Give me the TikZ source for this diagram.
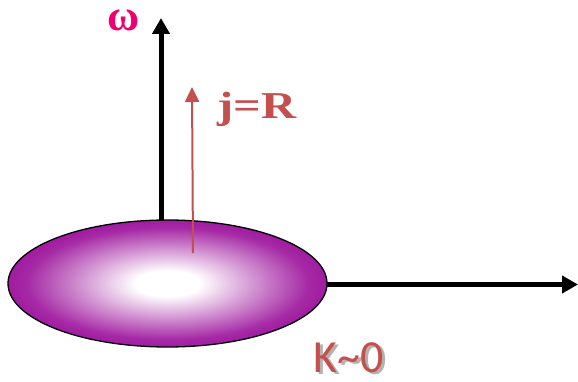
\documentclass[tikz,border=0pt]{standalone}
\usepackage{fontspec}
\setmainfont{Liberation Serif}
\newfontfamily\kfont{Carlito}
\usetikzlibrary{arrows.meta}
\definecolor{purp}{RGB}{150,4,150}
\definecolor{omegac}{RGB}{238,0,112}
\definecolor{redc}{RGB}{196,80,77}
\pgfdeclareradialshading{glow}{\pgfpoint{0bp}{0bp}}{color(0bp)=(white); color(5bp)=(white); color(12bp)=(purp!35!white); color(22bp)=(purp!85!white); color(30bp)=(purp); color(50bp)=(purp)}
\tikzset{
  axis/.style={line width=5pt,-{Triangle[length=16pt,width=17pt]}},
  redarrow/.style={redc,line width=2pt,-{Triangle[length=15pt,width=14pt]}},
  lab/.style={inner sep=0pt},
}
\begin{document}
\begin{tikzpicture}[x=1pt,y=-1pt]
\useasboundingbox (0,0) rectangle (578,382);
% ellipse
\coordinate (c) at (167.5,283.5);
\shade[shading=glow] (c) ellipse [x radius=159.5, y radius=63.5];
\draw[black,line width=1.3pt] (c) ellipse [x radius=159.5, y radius=63.5];
\coordinate (vtop) at (161,220.5);
\coordinate (vtip) at (161,18);
\coordinate (hleft) at (327,284.5);
\coordinate (htip) at (578,284.5);
\draw[axis] (vtop) -- (vtip);
\draw[axis] (hleft) -- (htip);
\coordinate (rb) at (193,253);
\coordinate (rt) at (192,87);
\draw[redarrow] (rb) -- (rt);
\node[lab,text=omegac,font=\bfseries\fontsize{44}{44}\selectfont] (om) at (124,20) {ω};
\node[lab,text=redc,xscale=1.28,font=\bfseries\fontsize{38}{38}\selectfont] (jr) at (257,109) {j=R};
\node[lab,text=black!30,font=\kfont\fontsize{46}{46}\selectfont] at (351.5,360) {K\textasciitilde 0};
\node[lab,text=redc,font=\kfont\fontsize{46}{46}\selectfont] (k0) at (349,357.5) {K\textasciitilde 0};
\end{tikzpicture}
\end{document}
